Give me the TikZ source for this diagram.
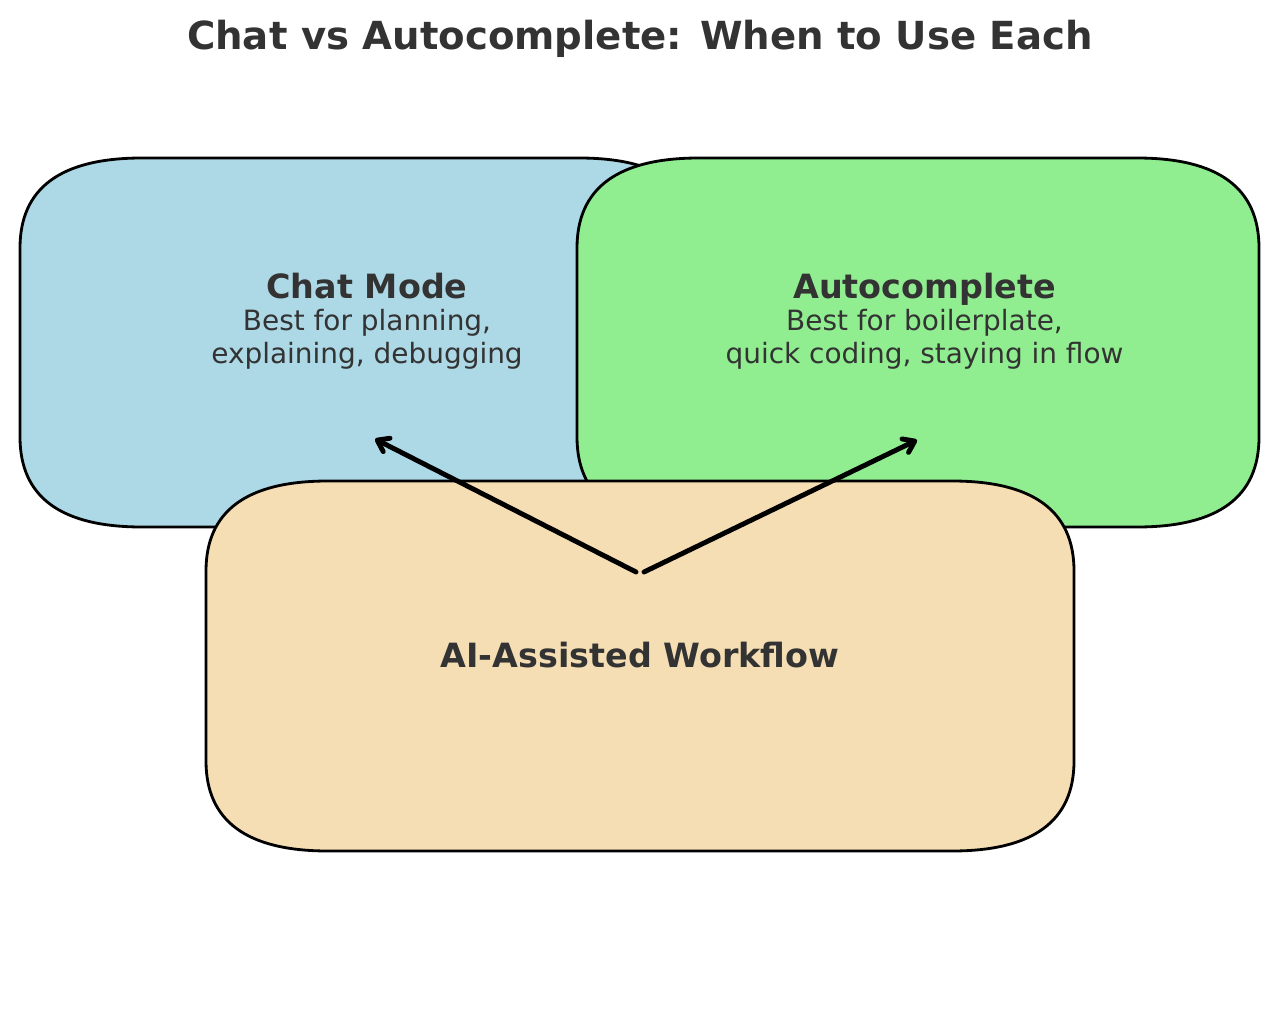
\documentclass[tikz,border=0pt]{standalone}
\usepackage{fontspec}
\setmainfont{DejaVu Sans}
\usetikzlibrary{arrows.meta}

\definecolor{chatblue}{HTML}{ADD8E6}
\definecolor{autogreen}{HTML}{90EE90}
\definecolor{flowwheat}{HTML}{F5DEB3}
\definecolor{textgray}{HTML}{333333}

\begin{document}
\begin{tikzpicture}[x=0.02cm,y=-0.02cm,
  panel/.style={draw=black,line width=1.6pt},
  heading/.style={anchor=base,inner sep=0pt,text=textgray,font=\bfseries\fontsize{19}{23}\selectfont},
  bodyline/.style={anchor=base,inner sep=0pt,text=textgray,font=\fontsize{15.9}{19}\selectfont},
  flowarrow/.style={line width=2.8pt,line cap=round,-{Straight Barb[length=6pt,width=8.5pt,round]}}]

\useasboundingbox (0,0) rectangle (1280,1010);

% title
\node[anchor=base,inner sep=0pt,text=textgray,font=\bfseries\fontsize{22}{27}\selectfont] (title) at (640,49.3) {Chat vs Autocomplete: When to Use Each};

% chat mode box
\draw[panel,fill=chatblue] (20,248) .. controls (20,188) and (60.7,158) .. (142,158) -- (579,158)
  .. controls (660.3,158) and (701,188) .. (701,248) -- (701,437)
  .. controls (701,497) and (660.3,527) .. (579,527) -- (142,527)
  .. controls (60.7,527) and (20,497) .. (20,437) -- cycle;

% autocomplete box
\draw[panel,fill=autogreen] (577,248) .. controls (577,188) and (617.7,158) .. (699,158) -- (1137,158)
  .. controls (1218.3,158) and (1259,188) .. (1259,248) -- (1259,437)
  .. controls (1259,497) and (1218.3,527) .. (1137,527) -- (699,527)
  .. controls (617.7,527) and (577,497) .. (577,437) -- cycle;

% workflow box
\draw[panel,fill=flowwheat] (206,571) .. controls (206,511) and (246.7,481) .. (328,481) -- (952,481)
  .. controls (1033.3,481) and (1074,511) .. (1074,571) -- (1074,761)
  .. controls (1074,821) and (1033.3,851) .. (952,851) -- (328,851)
  .. controls (246.7,851) and (206,821) .. (206,761) -- cycle;

\node[heading] (chat) at (367,298) {Chat Mode};
\node[bodyline] (chatA) at (367,330.5) {Best for planning,};
\node[bodyline] (chatB) at (367,363) {explaining, debugging};

\node[heading] (auto) at (924.5,298) {Autocomplete};
\node[bodyline] (autoA) at (924.5,330.5) {Best for boilerplate,};
\node[bodyline] (autoB) at (924.5,363) {quick coding, staying in flow};

\node[heading] (flow) at (640,667) {AI-Assisted Workflow};

% arrows
\coordinate (chatfrom) at (636,572);
\coordinate (chatto) at (375,439);
\coordinate (autofrom) at (644,572);
\coordinate (autoto) at (917,440);

\draw[flowarrow] (chatfrom) -- (chatto);
\draw[flowarrow] (autofrom) -- (autoto);

\end{tikzpicture}
\end{document}
